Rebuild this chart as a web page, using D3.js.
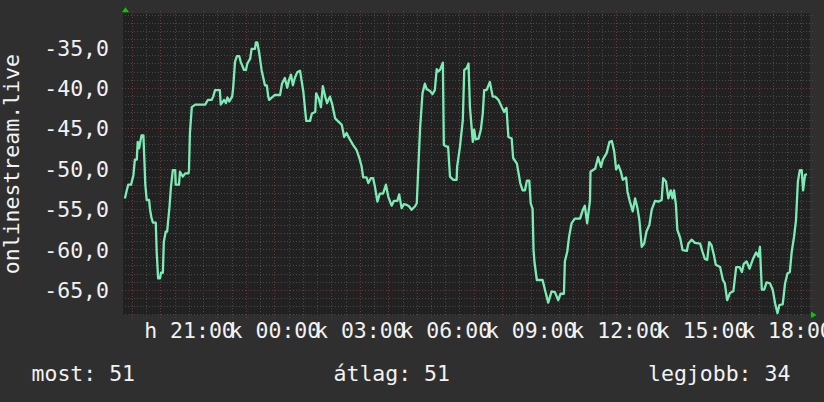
<!DOCTYPE html>
<html>
<head>
<meta charset="utf-8">
<script src="https://cdn.jsdelivr.net/npm/d3@7"></script>
<style>
  body { margin: 0; background: #2f2f2f; }
  text { font-family: "DejaVu Sans Mono", monospace; fill: #f2f2f2; }
</style>
</head>
<body>
<div class="chart"></div>
<script>
// graph window (rrd style, 24h)
const startTime = new Date(2024, 0, 1, 18, 41);
const windowMinutes = 1447.5;
const yLimits = [-68.13, -30.79];

// minutes after startTime
const minutes = [4, 8, 11, 17, 22, 25, 29, 31, 34, 37, 39, 43, 45, 47, 50, 55, 57, 60, 63, 69,
  71, 74, 78, 80, 84, 86, 90, 93, 98, 101, 105, 110, 111, 118, 120, 126, 131, 138, 139, 141,
  143, 145, 152, 173, 179, 187, 190, 194, 204, 206, 213, 217, 220, 224, 230, 232, 236, 240, 245, 248,
  255, 259, 262, 268, 271, 278, 280, 283, 287, 292, 299, 303, 306, 308, 320, 331, 335, 341, 346, 350,
  354, 358, 362, 367, 373, 380, 386, 394, 398, 405, 407, 412, 417, 421, 426, 430, 436, 441, 447, 454,
  461, 466, 471, 477, 485, 492, 498, 503, 506, 513, 517, 522, 527, 531, 536, 541, 548, 554, 559, 566,
  571, 578, 582, 587, 592, 598, 603, 608, 615, 619, 622, 626, 631, 636, 640, 647, 652, 657, 661, 664,
  668, 674, 676, 682, 685, 689, 696, 703, 704, 710, 716, 719, 724, 728, 731, 737, 740, 743, 749, 754,
  758, 761, 766, 773, 779, 784, 791, 798, 803, 808, 812, 819, 822, 830, 837, 842, 847, 851, 856, 859,
  863, 865, 867, 872, 884, 889, 896, 903, 910, 917, 922, 929, 931, 936, 940, 945, 952, 963, 969, 973,
  978, 984, 985, 995, 1001, 1007, 1011, 1019, 1025, 1030, 1035, 1039, 1044, 1049, 1053, 1060, 1063, 1068, 1074, 1079,
  1084, 1088, 1093, 1098, 1103, 1109, 1114, 1121, 1128, 1135, 1138, 1144, 1149, 1154, 1158, 1161, 1165, 1168, 1174, 1179,
  1188, 1191, 1198, 1205, 1216, 1221, 1226, 1231, 1235, 1240, 1245, 1249, 1258, 1264, 1268, 1273, 1279, 1286, 1292, 1299,
  1304, 1308, 1314, 1320, 1328, 1334, 1339, 1342, 1346, 1351, 1356, 1363, 1369, 1374, 1379, 1383, 1390, 1395, 1400, 1405,
  1409, 1414, 1418, 1422, 1426, 1430, 1433, 1437, 1441];

const values = [-53.7, -52.7, -52.0, -52.0, -50.8, -48.9, -48.9, -46.7, -47.5, -46.5, -45.9, -45.9, -48.9, -52.0, -53.9, -53.9, -55.1, -56.1, -56.7, -56.7,
  -60.3, -63.6, -63.6, -62.9, -62.9, -59.1, -57.8, -57.8, -54.7, -52.3, -50.2, -50.2, -52.0, -52.0, -50.4, -51.0, -50.6, -50.6, -50.2, -45.6,
  -44.0, -42.4, -42.1, -42.1, -41.5, -41.5, -41.1, -40.3, -40.3, -42.1, -41.5, -41.9, -41.2, -41.7, -41.1, -40.1, -36.8, -36.1, -36.1, -36.8,
  -37.8, -37.8, -37.0, -36.4, -35.2, -35.2, -34.4, -34.4, -35.7, -37.8, -39.7, -39.7, -41.1, -41.5, -40.9, -40.9, -39.5, -38.8, -40.0, -39.0,
  -38.4, -39.7, -38.8, -38.1, -37.9, -40.5, -44.1, -44.1, -43.2, -43.0, -40.7, -41.3, -42.4, -39.8, -41.1, -41.9, -41.1, -42.1, -43.8, -44.2,
  -44.6, -46.1, -45.6, -46.3, -47.1, -47.7, -48.7, -49.8, -51.1, -51.1, -51.8, -51.2, -51.2, -52.3, -54.1, -53.1, -53.1, -52.0, -53.5, -54.6,
  -54.0, -54.0, -53.2, -54.9, -54.4, -54.5, -54.7, -55.1, -54.7, -54.3, -50.2, -45.0, -40.7, -39.5, -40.2, -40.4, -40.8, -40.3, -37.7, -38.0,
  -37.8, -36.9, -47.1, -47.3, -47.3, -51.0, -51.4, -51.4, -49.8, -47.3, -44.0, -37.8, -37.6, -37.0, -42.4, -46.7, -45.2, -46.4, -46.3, -45.2,
  -43.2, -40.3, -40.3, -39.3, -41.1, -41.1, -41.5, -42.4, -43.0, -42.5, -46.1, -46.3, -48.7, -49.4, -51.8, -52.7, -52.7, -51.5, -51.5, -54.3,
  -55.0, -60.1, -61.6, -63.8, -63.8, -65.0, -66.6, -65.2, -65.3, -66.3, -65.5, -65.5, -61.5, -60.3, -58.4, -56.8, -56.2, -56.2, -55.1, -54.6,
  -56.8, -53.9, -50.4, -50.0, -48.6, -49.8, -48.9, -48.1, -46.7, -46.6, -47.9, -50.1, -49.6, -50.4, -51.4, -51.1, -52.9, -54.1, -55.3, -53.7,
  -54.9, -56.4, -59.7, -59.3, -57.8, -57.0, -55.1, -54.0, -54.1, -53.9, -51.2, -51.6, -53.7, -52.7, -53.7, -52.7, -54.5, -57.6, -58.6, -60.1,
  -60.2, -59.3, -58.8, -59.2, -59.3, -60.3, -61.2, -61.3, -59.1, -59.5, -60.7, -61.9, -62.2, -63.8, -64.2, -66.3, -65.4, -65.2, -62.2, -62.2,
  -62.8, -61.8, -61.5, -62.4, -61.1, -60.4, -60.9, -59.7, -65.0, -65.0, -64.1, -64.2, -65.0, -66.7, -67.9, -66.9, -66.8, -64.2, -63.0, -62.8,
  -60.3, -58.4, -56.4, -51.6, -50.2, -50.2, -52.7, -50.8, -50.7];

const yTitle = "onlinestream.live";
const legendItems = ["most: 51", "átlag: 51", "legjobb: 34"];

const w = 824, h = 402;
const plot = { left: 123, right: 810, top: 13.3, bottom: 315 };

const hu = d3.timeFormatLocale({
  dateTime: "%Y. %B %-e., %A %X", date: "%Y.%m.%d.", time: "%H:%M:%S",
  periods: ["de.", "du."],
  days: ["vasárnap", "hétfő", "kedd", "szerda", "csütörtök", "péntek", "szombat"],
  shortDays: ["v", "h", "k", "sze", "cs", "p", "szo"],
  months: ["január", "február", "március", "április", "május", "június", "július", "augusztus", "szeptember", "október", "november", "december"],
  shortMonths: ["jan.", "feb.", "már.", "ápr.", "máj.", "jún.", "júl.", "aug.", "szept.", "okt.", "nov.", "dec."]
});

const data = minutes.map((m, i) => ({ t: d3.timeMinute.offset(startTime, m), v: values[i] }));

const x = d3.scaleTime()
  .domain([startTime, new Date(+startTime + windowMinutes * 60000)])
  .range([plot.left, plot.right]);
const y = d3.scaleLinear().domain(yLimits).range([plot.bottom, plot.top]);

const svg = d3.select(".chart").append("svg")
  .attr("width", w).attr("height", h);

svg.append("rect").attr("width", w).attr("height", h).attr("fill", "#2f2f2f");
svg.append("rect")
  .attr("x", plot.left).attr("y", plot.top)
  .attr("width", plot.right - plot.left).attr("height", plot.bottom - plot.top)
  .attr("fill", "#212121");

const ph = plot.bottom - plot.top;
const pw = plot.right - plot.left;

function styleGrid(g, color) {
  g.select(".domain").remove();
  g.selectAll(".tick line")
    .attr("stroke", color).attr("stroke-width", 1)
    .attr("stroke-dasharray", "1,2")
    .attr("shape-rendering", "crispEdges");
}

// minor grid
const halfHours = d3.timeMinute.every(30).range(...x.domain()).filter(d => d.getMinutes() !== 0);
svg.append("g")
  .attr("transform", `translate(0,${plot.bottom + 3})`)
  .call(d3.axisBottom(x).tickValues(halfHours).tickSize(-(ph + 6)).tickFormat(""))
  .call(g => styleGrid(g, "#484848"));
const unitTicks = d3.range(-68, -30, 1).filter(v => v % 5 !== 0);
svg.append("g")
  .attr("transform", `translate(${plot.right + 3},0)`)
  .call(d3.axisLeft(y).tickValues(unitTicks).tickSize(pw + 3).tickFormat(""))
  .call(g => styleGrid(g, "#484848"));

// major grid
const hours = d3.timeHour.every(1).range(...x.domain());
svg.append("g")
  .attr("transform", `translate(0,${plot.bottom + 3})`)
  .call(d3.axisBottom(x).tickValues(hours).tickSize(-(ph + 6)).tickFormat(""))
  .call(g => styleGrid(g, "#6e3838"));
const fiveTicks = d3.range(-65, -30, 5);
svg.append("g")
  .attr("transform", `translate(${plot.right + 3},0)`)
  .call(d3.axisLeft(y).tickValues(fiveTicks).tickSize(pw + 5).tickFormat(""))
  .call(g => styleGrid(g, "#6e3838"));

// y labels
svg.append("g")
  .attr("transform", `translate(${plot.left},0)`)
  .call(d3.axisLeft(y).tickValues(fiveTicks).tickSize(0).tickPadding(14)
    .tickFormat(d => d.toFixed(1).replace(".", ",")))
  .call(g => g.select(".domain").remove())
  .call(g => g.selectAll("text").attr("fill", "#f2f2f2")
    .style("font-size", "21.5px").attr("dy", "0.36em"));

// x labels
const threeHours = d3.timeHour.every(3).range(...x.domain());
svg.append("g")
  .attr("transform", `translate(0,${plot.bottom})`)
  .call(d3.axisBottom(x).tickValues(threeHours).tickSize(0).tickPadding(0)
    .tickFormat(hu.format("%a %H:%M")))
  .call(g => g.select(".domain").remove())
  .call(g => g.selectAll("text").attr("fill", "#f2f2f2")
    .style("font-size", "21.5px").attr("y", 23).attr("dy", 0));

// axis arrows
svg.append("path")
  .attr("d", `M${plot.left - 1},${plot.top - 1}L${plot.left + 6},${plot.top - 1}L${plot.left + 2.5},${plot.top - 6}Z`)
  .attr("fill", "#00cc00");
svg.append("path")
  .attr("d", `M${plot.right + 1},${plot.bottom - 3.5}L${plot.right + 1},${plot.bottom + 3}L${plot.right + 6.5},${plot.bottom}Z`)
  .attr("fill", "#00cc00");

// series
const line = d3.line().x(d => x(d.t)).y(d => y(d.v));
svg.append("path")
  .datum(data)
  .attr("d", line)
  .attr("fill", "none")
  .attr("stroke", "#7debb5")
  .attr("stroke-width", 2.3)
  .attr("stroke-linejoin", "round");

// y title
svg.append("text")
  .attr("transform", `translate(18.5,${(plot.top + plot.bottom) / 2}) rotate(-90)`)
  .attr("text-anchor", "middle")
  .style("font-size", "21.5px")
  .text(yTitle);

// legend
const legendX = [31.5, 333.5, 648];
svg.append("g").selectAll("text")
  .data(legendItems)
  .enter().append("text")
  .attr("x", (d, i) => legendX[i])
  .attr("y", 381)
  .style("font-size", "21.5px")
  .text(d => d);
</script>
</body>
</html>
